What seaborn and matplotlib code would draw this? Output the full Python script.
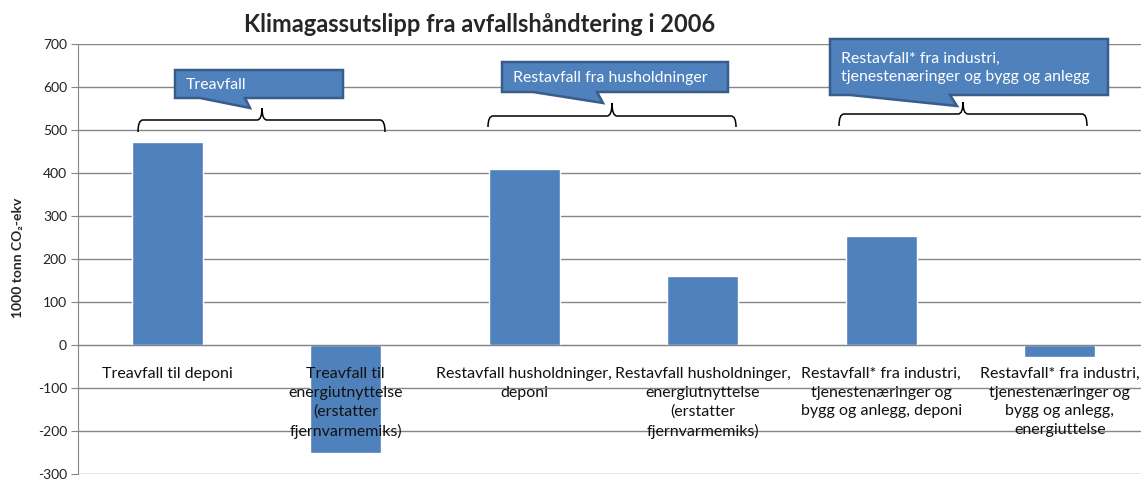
import numpy as np
import pandas as pd
import seaborn as sns
import matplotlib.pyplot as plt
from matplotlib.path import Path
from matplotlib.patches import PathPatch, Polygon

# ===== Data =====
kategorier = [
    "Treavfall til deponi",
    "Treavfall til\nenergiutnyttelse\n(erstatter\nfjernvarmemiks)",
    "Restavfall husholdninger,\ndeponi",
    "Restavfall husholdninger,\nenergiutnyttelse\n(erstatter\nfjernvarmemiks)",
    "Restavfall* fra industri,\ntjenestenæringer og\nbygg og anlegg, deponi",
    "Restavfall* fra industri,\ntjenestenæringer og\nbygg og anlegg,\nenergiuttelse",
]
utslipp = [472, -250, 409, 161, 254, -28]
grupper = [
    "Treavfall",
    "Restavfall fra husholdninger",
    "Restavfall* fra industri,\ntjenestenæringer og bygg og anlegg",
]
y_ticks = list(range(-300, 701, 100))

df = pd.DataFrame({"kategori": kategorier, "utslipp": utslipp})

W, H = 1141, 479
BLUE = "#4F81BD"
GRID = "#868686"

sns.set_style("white")
plt.rcParams["font.family"] = ["Lato", "DejaVu Sans"]

fig = plt.figure(figsize=(W / 100, H / 100), dpi=100)
ax = fig.add_axes([78 / W, 1 - 474 / H, 1071 / W, 430 / H])

sns.barplot(data=df, x="kategori", y="utslipp", color=BLUE, saturation=1,
            width=0.4, ax=ax, zorder=2)

ax.set_ylim(-300, 700)
ax.set_xlim(-0.5, len(kategorier) - 0.5)
ax.set_yticks(y_ticks)
ax.set_yticklabels([str(t) for t in y_ticks], fontsize=10, color="#222222")
ax.grid(axis="y", color=GRID, lw=1, zorder=0)
ax.set_xlabel("")
ax.set_ylabel("")

# category axis at zero, ticks between categories
for s in ["top", "right"]:
    ax.spines[s].set_visible(False)
ax.spines["bottom"].set_position(("data", 0))
ax.spines["bottom"].set_color(GRID)
ax.spines["left"].set_color(GRID)
ax.set_xticks(np.arange(len(kategorier) + 1) - 0.5)
ax.set_xticklabels([])
ax.tick_params(axis="x", length=5, color=GRID, direction="out")
ax.tick_params(axis="y", length=5, color=GRID, direction="out", pad=3, left=True)

# category labels drawn over the bars
for i, lbl in enumerate(kategorier):
    ax.annotate(lbl, (i, 0), xytext=(0, -16), textcoords="offset points",
                ha="center", va="top", fontsize=11.5, color="#111111",
                linespacing=1.42, zorder=5, annotation_clip=False)

fig.text(480 / W, 1 - 25 / H, "Klimagassutslipp fra avfallshåndtering i 2006",
         ha="center", va="center", fontsize=17, fontweight="bold")
fig.text(18 / W, 1 - 258 / H, "1000 tonn CO\u2082-ekv", rotation=90,
         ha="center", va="center", fontsize=10, fontweight="bold")


def fp(x, y):
    return (x / W, 1 - y / H)


# callouts: (x0, x1, y0, y1, tail base left, tail base right, tip x, tip y)
callouts = [
    (175, 343, 70, 98, 200, 245, 250, 108),
    (502, 728, 62, 92, 533, 597, 603, 103),
    (830, 1108, 39, 95, 850, 950, 957, 106),
]
for (x0, x1, y0, y1, b0, b1, tx, ty), tekst in zip(callouts, grupper):
    pts = [fp(x0, y0), fp(x1, y0), fp(x1, y1), fp(b1, y1), fp(tx, ty),
           fp(b0, y1), fp(x0, y1)]
    fig.patches.append(Polygon(pts, closed=True, transform=fig.transFigure,
                               facecolor=BLUE, edgecolor="#385D8A", lw=1.8))
    fig.text((x0 + 11) / W, 1 - ((y0 + y1) / 2 + 1) / H, tekst, color="white",
             ha="left", va="center", fontsize=11.4, linespacing=1.35)

# braces: (x left, x right, x middle, y line, y ends, y top)
braces = [
    (138, 385, 262, 120, 132, 108),
    (488, 736, 612, 116, 127, 103),
    (839, 1087, 963, 114, 126, 102),
]
for x0, x1, xm, y, ye, yt in braces:
    verts = [fp(x0, ye), fp(x0, y), fp(x0 + 5, y), fp(xm - 5, y), fp(xm, y),
             fp(xm, yt), fp(xm, y), fp(xm + 5, y), fp(x1 - 5, y), fp(x1, y),
             fp(x1, ye)]
    codes = [Path.MOVETO, Path.CURVE3, Path.CURVE3, Path.LINETO, Path.CURVE3,
             Path.CURVE3, Path.CURVE3, Path.CURVE3, Path.LINETO, Path.CURVE3,
             Path.CURVE3]
    fig.patches.append(PathPatch(Path(verts, codes), transform=fig.transFigure,
                                 facecolor="none", edgecolor="black", lw=1.1))

plt.savefig("out.png", dpi=100)
